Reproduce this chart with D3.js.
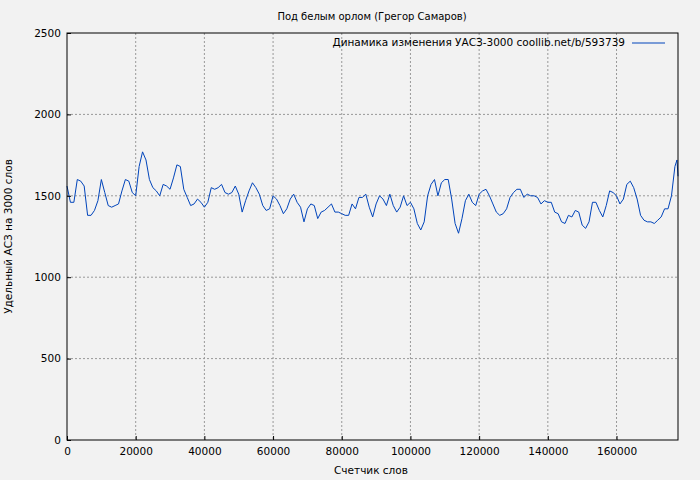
<!DOCTYPE html>
<html><head><meta charset="utf-8">
<script src="https://cdn.jsdelivr.net/npm/d3@7"></script>
<style>body{margin:0;background:#f2f2f2}text{font-family:"DejaVu Sans",sans-serif}</style>
</head><body><div id="chart"></div>
<script>
var title = 'Под белым орлом (Грегор Самаров)';
var legendLabel = 'Динамика изменения УАСЗ-3000 coollib.net/b/593739';
var xTicks = [0, 20000, 40000, 60000, 80000, 100000, 120000, 140000, 160000];
var yTicks = [0, 500, 1000, 1500, 2000, 2500];
// value every 1000 words
var values = [1560,1460,1460,1600,1590,1560,1380,1380,1410,1470,
  1600,1520,1440,1430,1440,1450,1530,1600,1590,1520,
  1500,1680,1770,1720,1600,1550,1530,1500,1570,1560,
  1540,1610,1690,1680,1540,1490,1440,1450,1480,1460,
  1430,1460,1550,1540,1550,1570,1520,1510,1520,1560,
  1510,1400,1470,1530,1580,1550,1510,1440,1410,1420,
  1500,1480,1440,1390,1420,1480,1510,1460,1430,1340,
  1420,1450,1440,1360,1400,1410,1430,1450,1400,1400,
  1390,1380,1380,1450,1420,1490,1490,1510,1430,1370,
  1450,1500,1480,1440,1510,1440,1400,1430,1500,1440,
  1460,1420,1330,1290,1340,1500,1570,1600,1500,1580,
  1600,1600,1480,1330,1270,1360,1470,1510,1460,1440,
  1510,1530,1540,1500,1450,1400,1380,1390,1420,1490,
  1520,1540,1540,1490,1510,1500,1500,1490,1450,1470,
  1460,1460,1400,1390,1340,1330,1380,1370,1410,1400,
  1320,1300,1340,1460,1460,1410,1370,1440,1530,1520,
  1500,1450,1480,1570,1590,1550,1480,1380,1350,1340,
  1340,1330,1350,1370,1420,1420,1500,1680];
var tailX = [177600, 177900];
var tailY = [1720, 1620];

var W = 700, H = 480, m = {top: 33, right: 22, bottom: 40, left: 67};
var pts = values.map((v, i) => [i * 1000, v]).concat(tailX.map((x, i) => [x, tailY[i]]));

var svg = d3.select('#chart').append('svg').attr('width', W).attr('height', H);
svg.append('rect').attr('width', W).attr('height', H).attr('fill', '#f2f2f2');

var x = d3.scaleLinear().domain([0, 177900]).range([m.left, W - m.right]);
var y = d3.scaleLinear().domain([0, 2500]).range([H - m.bottom, m.top]);

var g = svg.append('g');
g.selectAll('line.gx').data(xTicks.slice(1)).enter().append('line')
  .attr('x1', d => x(d)).attr('x2', d => x(d)).attr('y1', m.top).attr('y2', H - m.bottom)
  .attr('stroke', '#999').attr('stroke-dasharray', '2,2');
g.selectAll('line.gy').data(yTicks.slice(1, -1)).enter().append('line')
  .attr('y1', d => y(d)).attr('y2', d => y(d)).attr('x1', m.left).attr('x2', W - m.right)
  .attr('stroke', '#999').attr('stroke-dasharray', '2,2');

svg.append('path').datum(pts).attr('fill', 'none').attr('stroke', '#0044bb').attr('stroke-width', 1)
  .attr('d', d3.line().x(d => x(d[0])).y(d => y(d[1])));

svg.append('rect').attr('x', m.left).attr('y', m.top).attr('width', W - m.left - m.right)
  .attr('height', H - m.top - m.bottom).attr('fill', 'none').attr('stroke', '#000');

var xa = svg.append('g').attr('transform', 'translate(0,' + (H - m.bottom) + ')')
  .call(d3.axisBottom(x).tickValues(xTicks).tickFormat(d3.format('d')).tickSize(-4).tickSizeOuter(0));
var ya = svg.append('g').attr('transform', 'translate(' + m.left + ',0)')
  .call(d3.axisLeft(y).tickValues(yTicks).tickFormat(d3.format('d')).tickSize(-4).tickSizeOuter(0));
[xa, ya].forEach(a => { a.select('.domain').remove(); a.selectAll('text').attr('font-size', 10.5).attr('fill', '#000'); });
xa.selectAll('text').attr('dy', '1.1em');
ya.selectAll('text').attr('dx', '-0.3em');

svg.append('text').attr('x', 372).attr('y', 20).attr('text-anchor', 'middle').attr('font-size', 10).text(title);
svg.append('text').attr('x', 371).attr('y', 474).attr('text-anchor', 'middle')
  .attr('font-size', 10.5).text('Счетчик слов');
svg.append('text').attr('transform', 'translate(12,' + ((m.top + H - m.bottom) / 2) + ') rotate(-90)')
  .attr('text-anchor', 'middle').attr('font-size', 10.5).text('Удельный АСЗ на 3000 слов');
svg.append('text').attr('x', 625).attr('y', 46).attr('text-anchor', 'end').attr('font-size', 10.5).text(legendLabel);
svg.append('line').attr('x1', 632).attr('x2', 665).attr('y1', 43).attr('y2', 43).attr('stroke', '#0044bb');
</script></body></html>
